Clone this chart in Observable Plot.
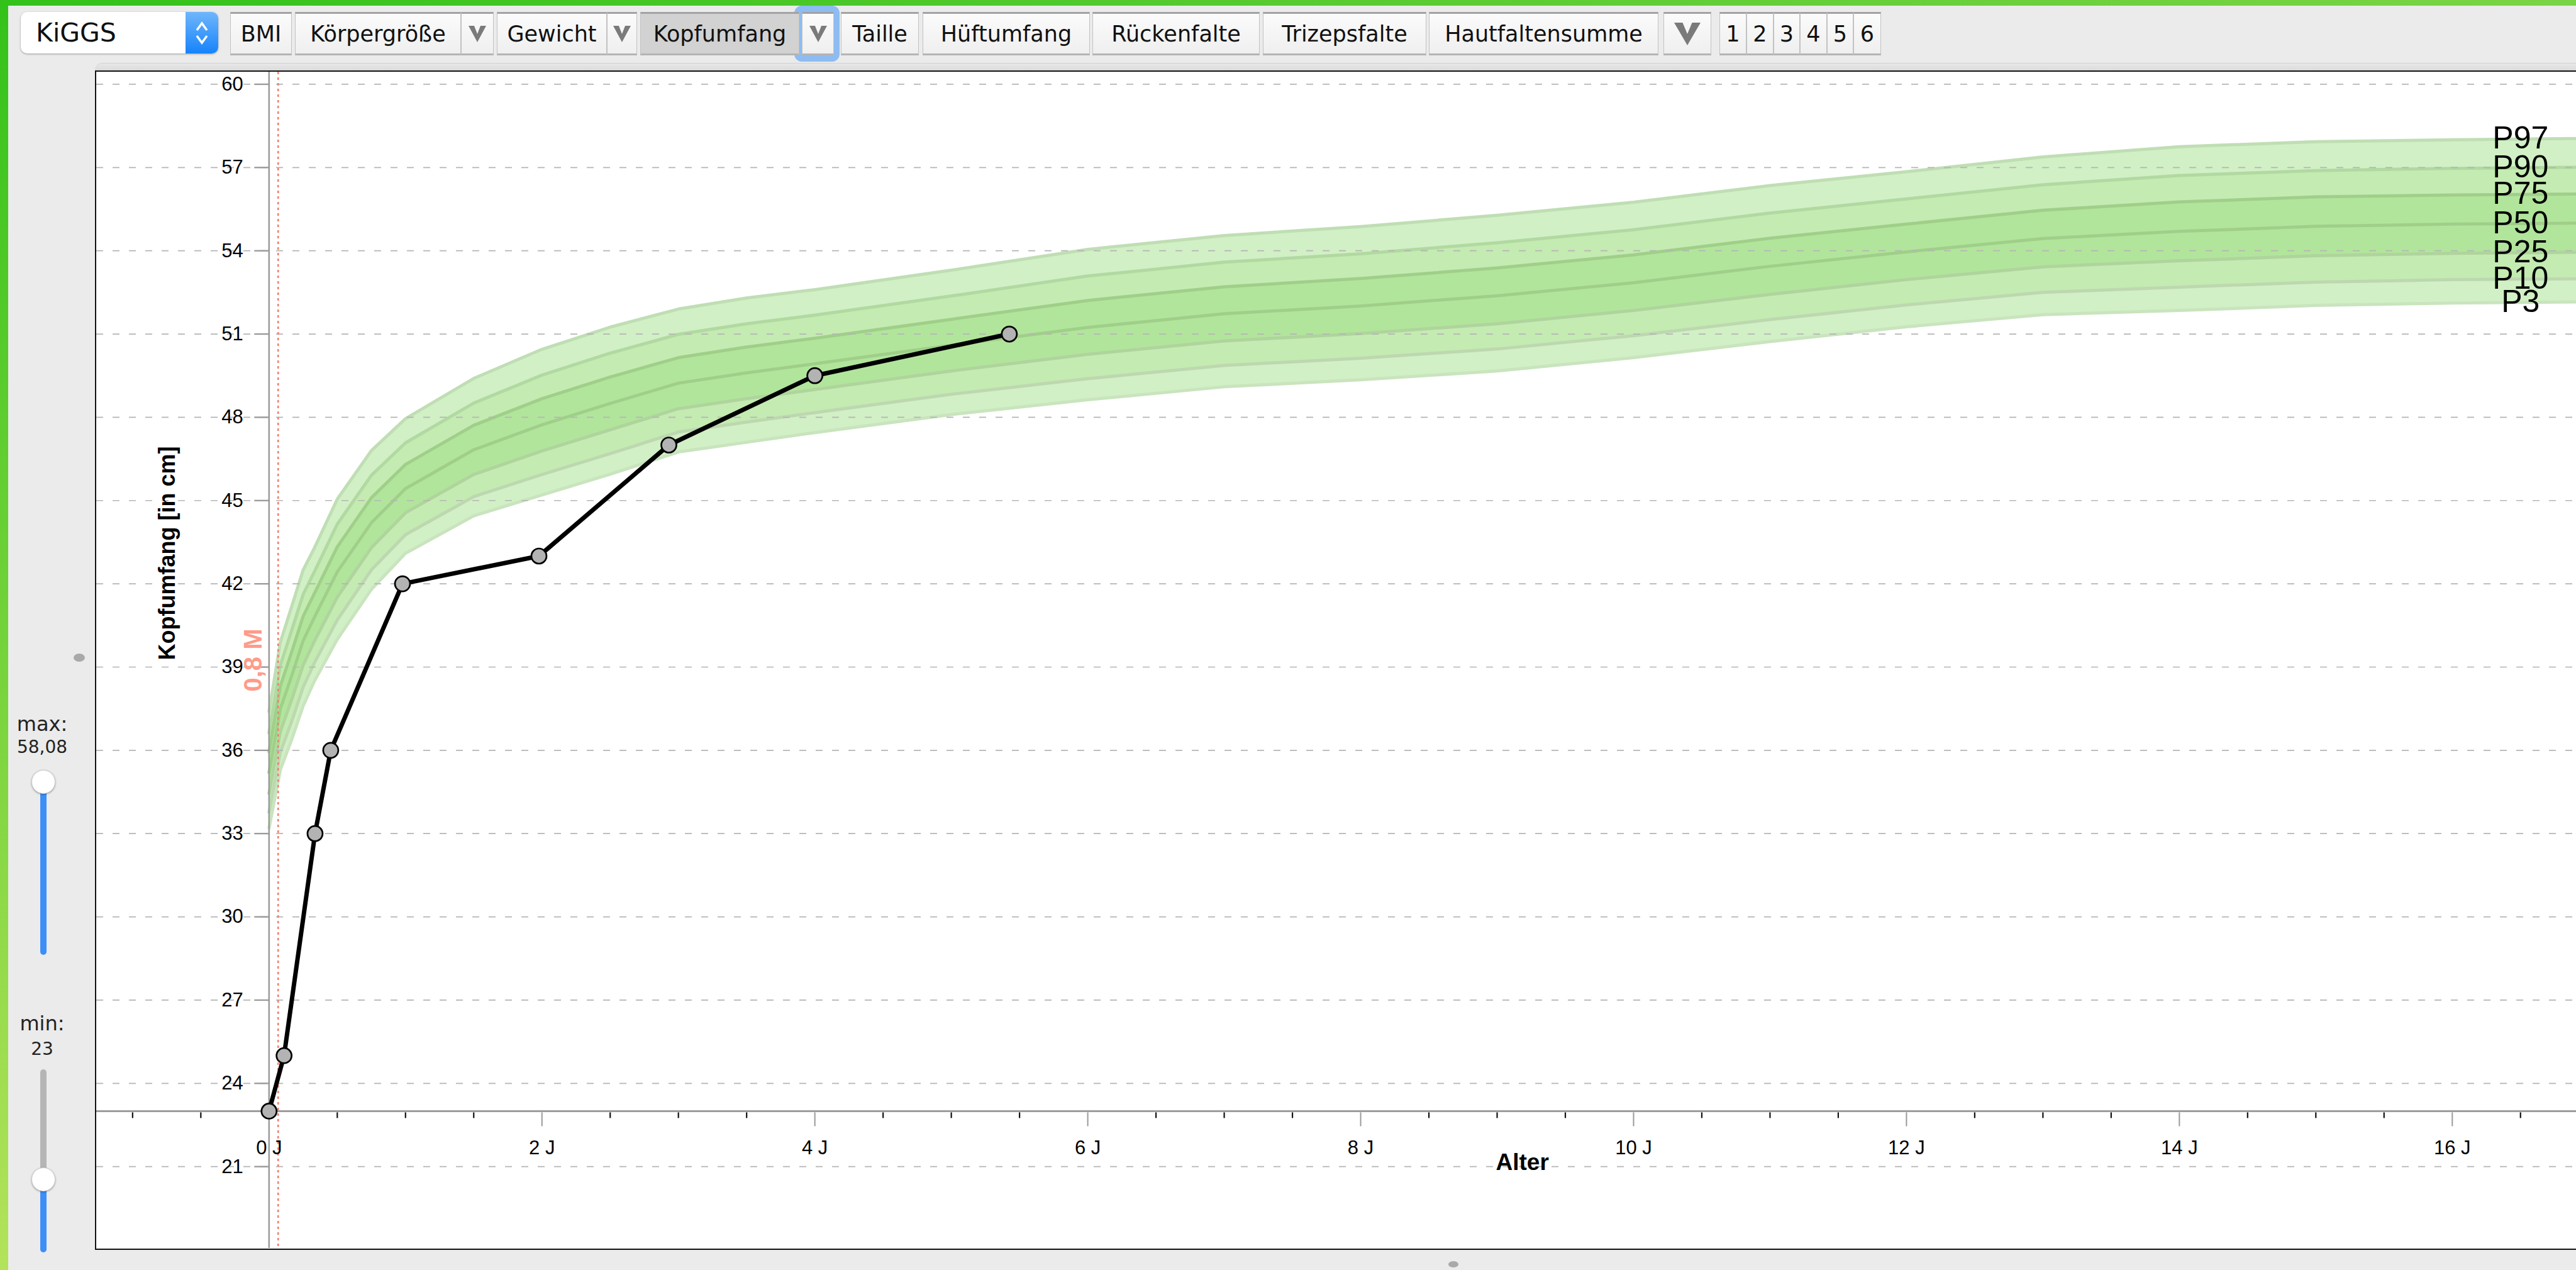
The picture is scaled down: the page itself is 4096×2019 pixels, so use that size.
<!DOCTYPE html>
<html><head><meta charset="utf-8">
<script src="https://cdn.jsdelivr.net/npm/d3@7"></script>
<script src="https://cdn.jsdelivr.net/npm/@observablehq/plot@0.6"></script>
<style>
html,body{margin:0;padding:0;}
body{width:4096px;height:2019px;overflow:hidden;position:relative;background:#ebebeb;font-family:"DejaVu Sans",sans-serif;}
.abs{position:absolute;box-sizing:border-box;}
.btn{position:absolute;top:19px;height:69px;box-sizing:border-box;background:linear-gradient(#fbfbfb,#efefef);border:1.5px solid #c2c2c2;border-top:3px solid #a2a2a2;border-bottom:3px solid #b4b4b4;display:flex;align-items:center;justify-content:center;font-size:35px;color:#111;white-space:nowrap;}
.btn.active{background:#d2d2d2;}
.lbl{position:absolute;left:0;width:134px;text-align:center;color:#222;}
#frame svg{max-width:none;display:block;}
</style></head>
<body>
<div class="abs" style="left:0;top:0;width:4096px;height:9px;background:linear-gradient(to right,#33c21a,#7bd445);"></div>
<div class="abs" style="left:0;top:0;width:13px;height:2019px;background:linear-gradient(#33c21a,#b3e35a);"></div>

<div class="abs" style="left:33px;top:19px;width:314px;height:66px;background:#fff;border-radius:10px;box-shadow:0 1px 3px rgba(0,0,0,.35);">
  <div style="position:absolute;left:24px;top:0;height:66px;display:flex;align-items:center;font-size:41px;color:#111;">KiGGS</div>
  <div style="position:absolute;right:0;top:0;width:52px;height:66px;border-radius:0 10px 10px 0;background:linear-gradient(#6fb6fc,#1683fa);">
    <svg width="52" height="66" style="position:absolute;left:0;top:0">
      <path d="M18,29 L26,18 L34,29" fill="none" stroke="#fff" stroke-width="3.5"/>
      <path d="M18,38 L26,49 L34,38" fill="none" stroke="#fff" stroke-width="3.5"/>
    </svg>
  </div>
</div>
<div class="abs" style="left:1263px;top:9px;width:72px;height:89px;background:#8dbcf2;border-radius:12px;"></div>
<div id="toolbar"></div>

<div class="abs" style="left:151px;top:100px;width:3960px;height:14px;background:linear-gradient(#e8e8e8,#d8d8d8);border-radius:12px 0 0 0;border-top:1px solid #d0d0d0;"></div>
<div id="frame" class="abs" style="left:151px;top:112px;width:3960px;height:1875px;border:2.5px solid #111;background:#fff;overflow:hidden;"></div>

<div class="lbl" style="top:1131px;font-size:32px;line-height:40px;">max:</div>
<div class="lbl" style="top:1171px;font-size:28px;line-height:34px;">58,08</div>
<div class="abs" style="left:64px;top:1243px;width:10px;height:275px;background:#3d8ef7;border-radius:5px;"></div>
<div class="abs" style="left:50px;top:1224px;width:38px;height:38px;border-radius:50%;background:#fff;border:1px solid #cfcfcf;box-shadow:0 1px 3px rgba(0,0,0,.35);"></div>
<div class="lbl" style="top:1607px;font-size:32px;line-height:40px;">min:</div>
<div class="lbl" style="top:1651px;font-size:28px;line-height:34px;">23</div>
<div class="abs" style="left:64px;top:1700px;width:10px;height:180px;background:#b5b5b5;border-radius:5px;"></div>
<div class="abs" style="left:64px;top:1870px;width:10px;height:121px;background:#3d8ef7;border-radius:5px;"></div>
<div class="abs" style="left:50px;top:1856px;width:38px;height:38px;border-radius:50%;background:#fff;border:1px solid #cfcfcf;box-shadow:0 1px 3px rgba(0,0,0,.35);"></div>
<div class="abs" style="left:117px;top:1039px;width:18px;height:13px;border-radius:50%;background:#a9a9a9;"></div>
<div class="abs" style="left:2303px;top:2005px;width:16px;height:10px;border-radius:50%;background:#a9a9a9;"></div>

<script>
// ---- chart data ----
const ages = [0, 0.083, 0.167, 0.25, 0.333, 0.5, 0.75, 1, 1.5, 2, 2.5, 3, 3.5, 4, 5, 6, 7, 8, 9, 10, 11, 12, 13, 14, 15, 16, 17];
const p3  = [33.2, 35.3, 36.4, 37.6, 38.5, 40.0, 41.8, 43.1, 44.45, 45.2, 45.95, 46.75, 47.1, 47.45, 48.1, 48.63, 49.1, 49.35, 49.67, 50.15, 50.73, 51.26, 51.7, 51.85, 52.03, 52.12, 52.16];
const p10 = [33.77, 35.93, 37.06, 38.28, 39.16, 40.7, 42.5, 43.77, 45.14, 45.94, 46.69, 47.47, 47.83, 48.17, 48.83, 49.39, 49.87, 50.13, 50.46, 50.94, 51.52, 52.05, 52.5, 52.69, 52.87, 52.96, 52.99];
const p25 = [34.45, 36.68, 37.84, 39.07, 39.94, 41.52, 43.3, 44.56, 45.94, 46.79, 47.55, 48.31, 48.67, 49.0, 49.67, 50.27, 50.75, 51.02, 51.37, 51.85, 52.43, 52.96, 53.42, 53.64, 53.82, 53.91, 53.95];
const p50 = [35.2, 37.5, 38.7, 39.95, 40.8, 42.43, 44.2, 45.43, 46.83, 47.73, 48.5, 49.23, 49.6, 49.93, 50.6, 51.24, 51.73, 52.01, 52.38, 52.85, 53.44, 53.96, 54.44, 54.7, 54.88, 54.96, 55.0];
const p75 = [35.95, 38.32, 39.56, 40.83, 41.66, 43.33, 45.1, 46.3, 47.71, 48.67, 49.45, 50.15, 50.53, 50.85, 51.53, 52.21, 52.7, 53.0, 53.38, 53.85, 54.45, 54.96, 55.46, 55.76, 55.94, 56.01, 56.05];
const p90 = [36.63, 39.07, 40.34, 41.62, 42.44, 44.15, 45.91, 47.08, 48.51, 49.52, 50.31, 50.99, 51.37, 51.68, 52.37, 53.09, 53.59, 53.89, 54.29, 54.76, 55.36, 55.87, 56.38, 56.71, 56.89, 56.97, 57.01];
const p97 = [37.4, 39.9, 41.2, 42.5, 43.3, 45.05, 46.8, 47.95, 49.4, 50.45, 51.25, 51.9, 52.3, 52.6, 53.3, 54.05, 54.55, 54.87, 55.28, 55.75, 56.35, 56.85, 57.38, 57.75, 57.93, 58.0, 58.05];

const visitAges   = [0, 0.11, 0.337, 0.452, 0.978, 1.978, 2.93, 4.0, 5.425];
const visitValues = [23, 25, 33, 36, 42, 43, 47, 49.5, 51];

const pctNames = ["P97", "P90", "P75", "P50", "P25", "P10", "P3"];
const pctKeys  = ["p97", "p90", "p75", "p50", "p25", "p10", "p3"];

const yTicks = [21, 24, 27, 30, 33, 36, 39, 42, 45, 48, 51, 54, 57, 60];
const xLabelTicks = [0, 2, 4, 6, 8, 10, 12, 14, 16];
const xMajorTicks = [2, 4, 6, 8, 10, 12, 14, 16];
const xMinorTicks = [-1, -0.5, 0.5, 1, 1.5, 2.5, 3, 3.5, 4.5, 5, 5.5, 6.5, 7, 7.5, 8.5, 9, 9.5, 10.5, 11, 11.5, 12.5, 13, 13.5, 14.5, 15, 15.5, 16.5];
const xAxisValue = 23;          // slider "min"
const markerAge = 0.8 / 12;     // 0,8 Monate
const markerLabel = "0,8 M";
const labelAge = 16.5;
const yTitle = "Kopfumfang [in cm]";
const xTitle = "Alter";

// ---- toolbar (UI chrome) ----
const chev = (w,h) => `<svg width="${w}" height="${h}"><path d="M0,0 L${w*0.32},0 L${w/2},${h*0.5} L${w*0.68},0 L${w},0 L${w/2},${h} Z" fill="#7a7a7a"/></svg>`;
const buttons = [
  ["BMI",366,464],["Körpergröße",469,733],["#",733,785],["Gewicht",790,965],["#",965,1013],
  ["Kopfumfang",1018,1271,"active"],["#",1275,1326],["Taille",1337,1461],["Hüftumfang",1467,1733],
  ["Rückenfalte",1737,2003],["Trizepsfalte",2008,2268],["Hautfaltensumme",2272,2637],["##",2645,2721],
  ["1",2734,2777],["2",2777,2820],["3",2820,2862],["4",2862,2905],["5",2905,2947],["6",2947,2991]
];
const tb = document.getElementById("toolbar");
for (const [t,x0,x1,cls] of buttons) {
  const d = document.createElement("div");
  d.className = "btn" + (cls ? " " + cls : "");
  d.style.left = x0 + "px"; d.style.width = (x1 - x0) + "px";
  d.innerHTML = t === "#" ? chev(28,26) : t === "##" ? chev(42,36) : t;
  tb.appendChild(d);
}

// ---- chart ----
const rows = ages.map((a, i) => ({age: a, p3: p3[i], p10: p10[i], p25: p25[i], p50: p50[i], p75: p75[i], p90: p90[i], p97: p97[i]}));
const visits = visitAges.map((a, i) => ({age: a, value: visitValues[i]}));
const last = rows[rows.length - 1];
const pctLabels = pctNames.map((n, i) => ({name: n, value: last[pctKeys[i]]}));

const lineColors = {p97:"#c0deb4", p90:"#b1d9a1", p75:"#a0cf8a", p50:"#a0cf8a", p25:"#afd49d", p10:"#bdd8b0", p3:"#c9e4be"};

const tickLeft  = {draw(ctx){ ctx.moveTo(-23.5, 0); ctx.lineTo(0, 0); }};
const tickMinor = {draw(ctx){ ctx.moveTo(0, 2); ctx.lineTo(0, 11); }};
const tickMajor = {draw(ctx){ ctx.moveTo(0, 2); ctx.lineTo(0, 24); }};

const W = 3943, H = 1870;
const chart = Plot.plot({
  width: W, height: H,
  marginLeft: 0, marginRight: 0, marginTop: 0, marginBottom: 0,
  x: {domain: [-1.2643, 16.909], axis: null},
  y: {domain: [18.057, 60.441], axis: null},
  style: {background: "transparent", fontFamily: "'Liberation Sans', Arial, Helvetica, sans-serif", color: "#000"},
  marks: [
    Plot.areaY(rows, {x: "age", y1: "p3",  y2: "p97", fill: "#d1f0c5"}),
    Plot.areaY(rows, {x: "age", y1: "p10", y2: "p90", fill: "#c4ebb1"}),
    Plot.areaY(rows, {x: "age", y1: "p25", y2: "p75", fill: "#b2e59c"}),
    ...pctKeys.map(k => Plot.line(rows, {x: "age", y: k, stroke: lineColors[k], strokeWidth: 5})),
    Plot.ruleY(yTicks, {stroke: "#b5b5b5", strokeWidth: 1.7, strokeDasharray: "11,15"}),
    Plot.ruleX([0], {stroke: "#9d9d9d", strokeWidth: 2.6}),
    Plot.ruleX([markerAge], {stroke: "#f3806f", strokeWidth: 2.6, strokeDasharray: "4,5"}),
    Plot.ruleY([xAxisValue], {stroke: "#9d9d9d", strokeWidth: 3}),
    Plot.dot(yTicks, {x: () => 0, y: d => d, symbol: tickLeft, fill: "none", stroke: "#999", strokeWidth: 2.3}),
    Plot.dot(xMinorTicks, {x: d => d, y: () => xAxisValue, symbol: tickMinor, fill: "none", stroke: "#111", strokeWidth: 2.2}),
    Plot.dot(xMajorTicks, {x: d => d, y: () => xAxisValue, symbol: tickMajor, fill: "none", stroke: "#999", strokeWidth: 2}),
    Plot.text(yTicks, {x: () => 0, y: d => d, text: d => String(d), textAnchor: "end", dx: -41, fontSize: 31}),
    Plot.text(xLabelTicks, {x: d => d, y: () => xAxisValue, text: d => `${d} J`, dy: 59, fontSize: 31}),
    Plot.text([yTitle], {frameAnchor: "left", dx: 113, rotate: -90, fontSize: 36, fontWeight: "bold"}),
    Plot.text([xTitle], {frameAnchor: "bottom-left", dx: 2225, dy: -125, fontSize: 37, fontWeight: "bold"}),
    Plot.text([markerLabel], {x: () => markerAge, dx: -38.6, rotate: -90, fontSize: 40, fontWeight: "bold", fill: "#ff9b8a"}),
    Plot.line(visits, {x: "age", y: "value", stroke: "#000", strokeWidth: 7}),
    Plot.dot(visits, {x: "age", y: "value", r: 12, fill: "#b3b3b3", stroke: "#000", strokeWidth: 2.7}),
    Plot.text(pctLabels, {x: () => labelAge, y: "value", text: "name", fontSize: 50})
  ]
});
document.getElementById("frame").appendChild(chart);
</script>
</body></html>
